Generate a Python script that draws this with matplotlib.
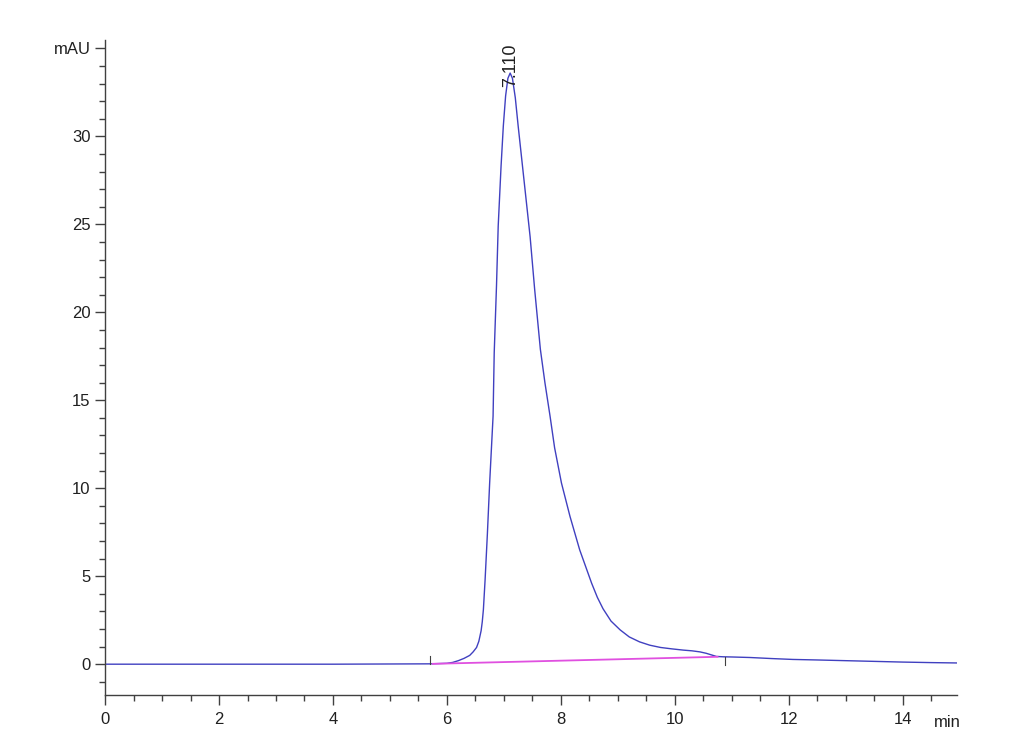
import numpy as np
import matplotlib
matplotlib.use("Agg")
import matplotlib.pyplot as plt
from matplotlib.ticker import MultipleLocator

plt.rcParams['font.family'] = ['Liberation Sans Narrow', 'Liberation Sans', 'DejaVu Sans']

# chromatogram (min, mAU)
time = [0.0, 2.0, 4.0, 5.7, 6.0, 6.1, 6.2, 6.3, 6.4, 6.46, 6.52, 6.56, 6.60, 6.62,
        6.64, 6.67, 6.71, 6.75, 6.81, 6.83, 6.87, 6.90, 6.95, 6.99, 7.03, 7.07,
        7.11, 7.15, 7.20, 7.25, 7.35, 7.46, 7.54, 7.64, 7.72, 7.81, 7.89, 8.01,
        8.16, 8.33, 8.54, 8.64, 8.74, 8.88, 9.04, 9.20, 9.38, 9.56, 9.75, 9.95,
        10.15, 10.30, 10.44, 10.55, 10.65, 10.73, 10.85, 11.0, 11.32, 11.7,
        12.07, 12.5, 13.0, 13.5, 14.0, 14.5, 14.95]
signal = [0.0, 0.0, 0.0, 0.02, 0.05, 0.1, 0.2, 0.33, 0.5, 0.7, 0.95, 1.3, 1.9, 2.4,
          3.1, 4.8, 7.4, 10.3, 14.1, 17.7, 21.5, 24.9, 28.3, 30.6, 32.3, 33.3,
          33.6, 33.3, 32.2, 30.6, 27.6, 24.3, 21.3, 17.9, 16.0, 14.1, 12.3, 10.3,
          8.4, 6.5, 4.6, 3.8, 3.15, 2.45, 1.95, 1.55, 1.27, 1.08, 0.95, 0.87,
          0.80, 0.76, 0.70, 0.62, 0.52, 0.44, 0.42, 0.41, 0.38, 0.32,
          0.27, 0.24, 0.2, 0.16, 0.12, 0.09, 0.07]

# integration baseline
base_t = [5.75, 10.75]
base_v = [0.02, 0.42]

peak_rt = 7.110
peak_h = 33.6

fig = plt.figure(figsize=(10.3, 7.55), dpi=100)
ax = fig.add_axes([0.102, 0.0795, 0.827, 0.868])

blue = '#4040c0'
ax.plot(time, signal, color=blue, lw=1.0, solid_joinstyle='round')
ax.plot(base_t, base_v, color='#e050e0', lw=1.3)

# baseline start / end marks
ax.plot([5.70, 5.70], [0.0, 0.45], color='#404040', lw=0.8)
ax.plot([10.88, 10.88], [0.40, -0.05], color='#404040', lw=0.8)

ax.text(peak_rt, peak_h - 0.8, '7.110', rotation=90, ha='center', va='bottom',
        fontsize=13, color='#202020')

ax.set_xlim(0, 14.95)
ax.set_ylim(-1.75, 35.5)

for s in ['top', 'right']:
    ax.spines[s].set_visible(False)
for s in ['left', 'bottom']:
    ax.spines[s].set_color('#404040')
    ax.spines[s].set_linewidth(1.0)

ax.xaxis.set_major_locator(MultipleLocator(2))
ax.xaxis.set_minor_locator(MultipleLocator(0.5))
ax.yaxis.set_minor_locator(MultipleLocator(1))

ax.set_yticks([0, 5, 10, 15, 20, 25, 30, 35])
ax.set_yticklabels(['0', '5', '10', '15', '20', '25', '30', 'mAU'])

ax.tick_params(which='major', length=7, width=1, color='#404040', labelsize=12,
               labelcolor='#202020')
ax.tick_params(which='minor', length=4, width=1, color='#404040')
ax.tick_params(axis='x', pad=5)

ax.text(14.79, -2.9, 'min', ha='center', va='top', fontsize=12, color='#202020',
        clip_on=False)

fig.savefig('out.png', dpi=100)
